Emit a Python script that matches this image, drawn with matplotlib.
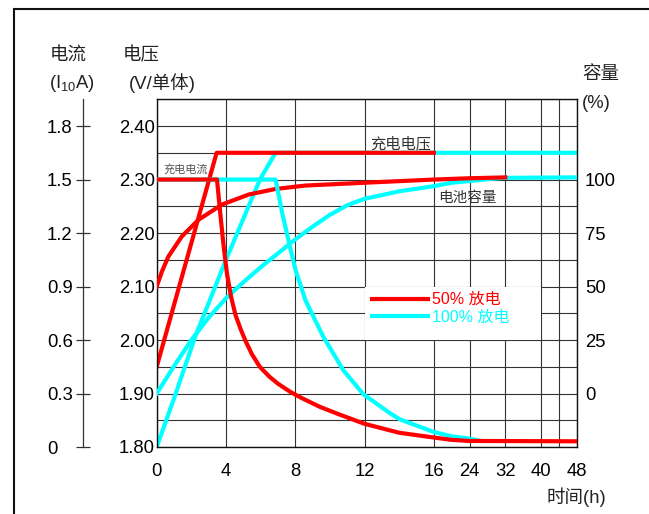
import numpy as np
import matplotlib
matplotlib.use("Agg")
import matplotlib.pyplot as plt
from matplotlib.patches import Rectangle

plt.rcParams['font.family'] = ['Liberation Sans', 'Noto Sans CJK SC']
plt.rcParams['mathtext.fontset'] = 'custom'
plt.rcParams['mathtext.rm'] = 'Liberation Sans'

W, H = 649, 514

# ---- data (time in h) ----
# 50% discharge (red)
red_cur_t = [0, 3.48, 3.67, 3.86, 4.06, 4.3, 4.55, 4.85, 5.15, 5.5, 5.95, 6.5, 7.0, 7.7, 8.3,
             9.4, 10.5, 12, 14, 16, 20, 24, 48]
red_cur_i = [1.5, 1.5, 1.31, 1.13, 0.97, 0.84, 0.74, 0.66, 0.59, 0.52, 0.45, 0.395, 0.355, 0.31, 0.278,
             0.226, 0.184, 0.13, 0.08, 0.053, 0.04, 0.034, 0.032]
red_volt_t = [0, 3.46, 16]
red_volt_v = [1.95, 2.35, 2.35]
red_cap_t = [0, 0.3, 0.68, 1.45, 2.42, 3.77, 5.31, 6.86, 8.6, 12, 16, 24, 32]
red_cap_p = [50, 57, 64.1, 73.4, 81.25, 88.3, 93.0, 95.6, 97.2, 98.5, 100, 100.6, 101]

# 100% discharge (cyan)
cyan_cur_t = [0, 6.86, 7.05, 7.25, 7.63, 8.02, 8.6, 9.61, 10.77, 11.92, 13.46, 14.04, 16, 20, 24, 26.4]
cyan_cur_i = [1.5, 1.5, 1.41, 1.31, 1.15, 0.99, 0.82, 0.62, 0.431, 0.297, 0.19, 0.155, 0.084, 0.06, 0.047, 0.035]
cyan_volt_t = [0, 0.97, 2.22, 4.0, 5.96, 6.86, 48]
cyan_volt_v = [1.80, 1.888, 2.006, 2.15, 2.30, 2.35, 2.35]
cyan_cap_t = [0, 1, 2, 3, 4, 5, 6, 7, 8, 9, 10, 11, 12, 14, 16, 20, 24, 28, 32, 48]
cyan_cap_p = [0, 12.8, 25, 35.5, 44.5, 52, 59, 65.5, 72, 78, 83.5, 88, 91, 94.5, 96.9, 98.5, 99.3,
              100.2, 100.8, 101]

time_ticks = [0, 4, 8, 12, 16, 24, 32, 40, 48]
volt_ticks = [1.80, 1.90, 2.00, 2.10, 2.20, 2.30, 2.40]
cur_ticks = [0, 0.3, 0.6, 0.9, 1.2, 1.5, 1.8]
cap_ticks = [0, 25, 50, 75, 100]

RED = '#ff0000'
CYAN = '#00ffff'

# time axis is compressed after 16 h
K = 3.88
def fwd(t):
    t = np.asarray(t, dtype=float)
    return np.where(t <= 16, t, 16 + (t - 16) / K)

def inv(u):
    u = np.asarray(u, dtype=float)
    return np.where(u <= 16, u, 16 + (u - 16) * K)

fig = plt.figure(figsize=(W / 100, H / 100), dpi=100)
ax = fig.add_axes([156.7 / W, 1 - 447 / H, 420 / W, 347.7 / H])
ax.set_xscale('function', functions=(fwd, inv))
ax.set_xlim(0, 48)
ax.set_ylim(1.80, 2.45)

ax.set_xticks(time_ticks)
ax.set_xticklabels([str(t) for t in time_ticks])
ax.set_xticks([44], minor=True)
ax.set_yticks(volt_ticks)
ax.set_yticklabels(['%.2f' % v for v in volt_ticks])
ax.set_yticks(np.arange(1.85, 2.45, 0.1), minor=True)
ax.set_axisbelow(True)
ax.grid(True, which='both', color='#333333', lw=0.8)
ax.tick_params(axis='both', which='both', length=0, labelsize=13.3)
ax.tick_params(axis='x', pad=11.5)
ax.tick_params(axis='y', pad=1.2)
for s in ax.spines.values():
    s.set_linewidth(1.0)
    s.set_color('#111111')

# white legend backdrop
ax.add_patch(Rectangle((12, 2.00), 28, 0.10, facecolor='white', edgecolor='none', zorder=1))

ax.plot(cyan_volt_t, cyan_volt_v, color=CYAN, lw=3, zorder=2)
ax.plot(red_volt_t, red_volt_v, color=RED, lw=3, zorder=2)

# capacity axis (right, labels only)
ax_cap = ax.twinx()
ax_cap.set_ylim((1.80 - 1.90) * 250, (2.45 - 1.90) * 250)
ax_cap.set_yticks(cap_ticks)
ax_cap.set_yticklabels([str(c) for c in cap_ticks])
ax_cap.tick_params(axis='y', length=0, pad=6, labelsize=13.3)
for s in ax_cap.spines.values():
    s.set_visible(False)
ax_cap.plot(cyan_cap_t, cyan_cap_p, color=CYAN, lw=3)
ax_cap.plot(red_cap_t, red_cap_p, color=RED, lw=3)

# current axis (separate spine on the left)
ax_cur = ax.twinx()
ax_cur.set_ylim(0, (2.45 - 1.80) * 3)
for name, s in ax_cur.spines.items():
    s.set_visible(name == 'left')
ax_cur.spines['left'].set_position(('outward', 52.8))
ax_cur.spines['left'].set_color('#333333')
ax_cur.spines['left'].set_linewidth(0.9)
ax_cur.yaxis.set_ticks_position('left')
ax_cur.set_yticks(cur_ticks)
ax_cur.set_yticklabels(['0' if c == 0 else '%.1f' % c for c in cur_ticks])
ax_cur.tick_params(axis='y', direction='inout', length=10, width=0.9, color='#333333',
                   pad=21.1, labelsize=13.3)
for lbl in ax_cur.get_yticklabels():
    lbl.set_horizontalalignment('left')
cyan_line, = ax_cur.plot(cyan_cur_t, cyan_cur_i, color=CYAN, lw=3, label='100% 放电')
red_line, = ax_cur.plot(red_cur_t, red_cur_i, color=RED, lw=3, label='50% 放电')

leg = ax_cur.legend(handles=[red_line, cyan_line], loc='upper left',
                    bbox_to_anchor=(0.512, 0.445), frameon=False, fontsize=11.5,
                    borderpad=0, borderaxespad=0, handlelength=3.55, handletextpad=0.2,
                    labelspacing=0.15, labelcolor='linecolor')

# curve annotations
ax.text(12.3, 2.367, '充电电压', fontsize=11, color='#333333', va='center', ha='left')
ax.text(16.9, 2.266, '电池容量', fontsize=10.5, color='#333333', va='center', ha='left')
ax.text(0.36, 2.32, '充电电流', fontsize=8, color='#555555', va='center', ha='left')

# axis titles
def ftext(x, y, s, **kw):
    fig.text(x / W, 1 - y / H, s, va='center', ha='left', color='#222222', **kw)

ftext(50, 55, '电流', fontsize=13.3)
ftext(49, 83, r'(I$_{10}$A)', fontsize=13.3)
ftext(123, 55, '电压', fontsize=13.3)
ftext(129, 83, '(V/单体)', fontsize=13.3)
ftext(582, 75, '容量', fontsize=13.3)
ftext(582, 103, '(%)', fontsize=13.3)
ftext(546, 497, '时间(h)', fontsize=13.3)

# outer frame (runs off the right and bottom edges)
fig.add_artist(Rectangle((13.5 / W, -0.2), 1.5, 1.2 - 8.5 / H, transform=fig.transFigure,
                         facecolor='none', edgecolor='#111111', lw=1.5))

fig.savefig('out.png', dpi=100)
